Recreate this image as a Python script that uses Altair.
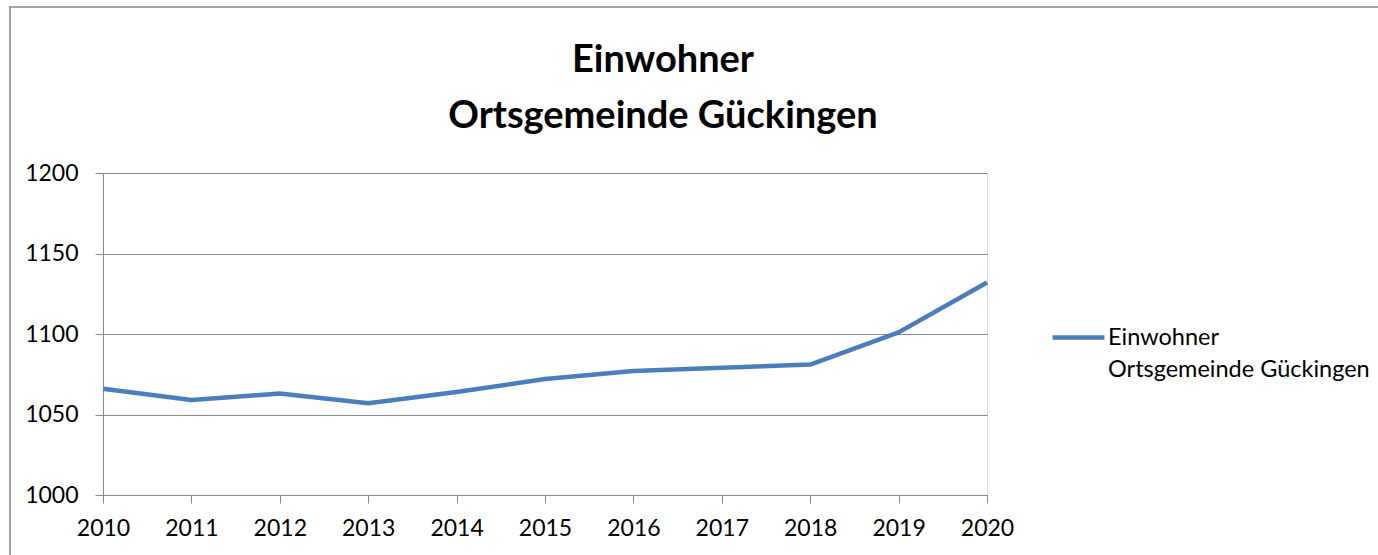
import altair as alt
import pandas as pd

years = [2010, 2011, 2012, 2013, 2014, 2015, 2016, 2017, 2018, 2019, 2020]
einwohner = [1066, 1059, 1063, 1057, 1064, 1072, 1077, 1079, 1081, 1101, 1132]
series_name = "Einwohner Ortsgemeinde Gückingen"
y_ticks = [1000, 1050, 1100, 1150, 1200]
title_lines = ["Einwohner", "Ortsgemeinde Gückingen"]
legend_lines = ["Einwohner", "Ortsgemeinde Gückingen"]

df = pd.DataFrame({"Jahr": years, "Einwohner": einwohner, "Serie": series_name})
one = pd.DataFrame({"k": [0]})

FONT = "Lato"
GRAY = "#898989"
BLUE = "#4A7EBB"
W, H = 884, 322

line = alt.Chart(df).mark_line(strokeWidth=4.5, strokeJoin="round").encode(
    x=alt.X(
        "Jahr:O",
        scale=alt.Scale(type="point", padding=0),
        axis=alt.Axis(
            title=None, labelAngle=0, grid=False, tickSize=8, tickColor=GRAY,
            domainColor=GRAY, labelFont=FONT, labelFontSize=23, labelColor="black",
            labelPadding=14,
        ),
    ),
    y=alt.Y(
        "Einwohner:Q",
        scale=alt.Scale(domain=[1000, 1200], nice=False, zero=False),
        axis=alt.Axis(
            title=None, values=y_ticks, format="d", grid=True, gridColor=GRAY,
            gridOpacity=1, tickSize=8, tickColor=GRAY, domainColor=GRAY,
            labelFont=FONT, labelFontSize=23, labelColor="black", labelPadding=17,
        ),
    ),
    color=alt.Color(
        "Serie:N",
        scale=alt.Scale(range=[BLUE]),
        legend=alt.Legend(
            title=None, orient="none", legendX=947, legendY=136, padding=0,
            symbolType="stroke", symbolSize=2704, symbolStrokeWidth=4.5,
            labelFont=FONT, labelFontSize=23.5, labelColor="black", labelOffset=1,
            labelLimit=1000, labelBaseline="middle",
            labelExpr="['" + legend_lines[0] + "', '" + legend_lines[1] + "']",
        ),
    ),
)

frame_top = alt.Chart(one).mark_rule(color=GRAY, strokeWidth=1.5).encode(
    x=alt.value(-94), x2=alt.value(1400), y=alt.value(-166)
)
frame_left = alt.Chart(one).mark_rule(color=GRAY, strokeWidth=1.5).encode(
    x=alt.value(-93), y=alt.value(-166), y2=alt.value(500)
)

chart = alt.layer(frame_top, frame_left, line).properties(
    width=W,
    height=H,
    title=alt.TitleParams(
        text=title_lines, font=FONT, fontSize=38, fontWeight="bold",
        color="black", anchor="middle", dx=118, dy=130, lineHeight=56, offset=0,
    ),
    autosize=alt.AutoSizeParams(type="none"),
    padding={"left": 103, "top": 173, "right": 391, "bottom": 60},
).configure_view(stroke=None).configure(
    style={"guide-label": {"lineHeight": 32}}
)

chart.save("out.html", embed_options={"renderer": "svg", "actions": False})
